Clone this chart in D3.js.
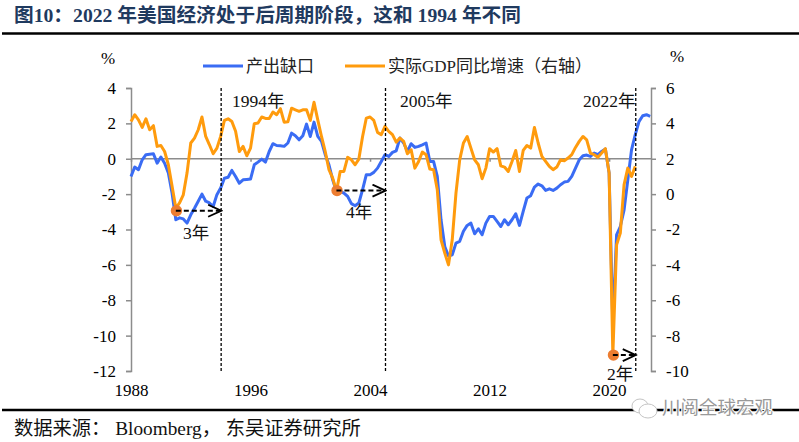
<!DOCTYPE html>
<html>
<head>
<meta charset="utf-8">
<script src="https://cdnjs.cloudflare.com/ajax/libs/d3/7.8.5/d3.min.js"></script>
<style>
  html, body { margin: 0; padding: 0; background: #fff; }
  svg { display: block; }
  text { font-family: "Liberation Serif", "Noto Sans CJK SC", serif; }
</style>
</head>
<body>
<script>
// quarterly, 1988Q1 onwards
var outputGap = [
  -1.0, -0.47, -0.62, -0.06, 0.23, 0.26, 0.28, -0.25, 0.1, -0.25, -0.8, -1.95,
  -3.45, -3.34, -3.4, -3.64, -3.17, -2.8, -2.4, -2.0, -2.4, -2.5, -2.7, -2.03,
  -1.66, -1.1, -1.05, -0.66, -1.0, -1.38, -1.19, -1.17, -1.15, -0.34, -0.19, -0.02,
  -0.19, 0.41, 0.85, 0.75, 0.74, 0.7, 0.89, 1.45, 1.3, 1.07, 1.3, 1.96,
  1.26, 2.07, 1.26, 0.98, 0.23, -0.34, -1.19, -1.85, -1.85, -1.94, -2.13, -2.54,
  -2.66, -2.5, -1.75, -0.9, -0.9, -0.77, -0.53, -0.15, 0.23, 0.13, 0.36, 0.45,
  1.17, 0.89, 0.41, 0.85, 0.64, 0.7, 0.79, 0.89, -0.15, -0.15, -1.0, -3.45,
  -4.96, -5.5, -5.43, -4.77, -4.67, -4.1, -3.77, -3.64, -4.24, -3.96, -4.3, -3.64,
  -3.26, -3.26, -3.54, -3.83, -3.45, -3.73, -3.45, -3.11, -3.77, -2.98, -2.22, -2.09,
  -1.6, -1.43, -1.53, -1.79, -1.7, -1.79, -1.66, -1.47, -1.32, -1.28, -1.0, -0.53,
  -0.06, 0.17, 0.21, 0.13, 0.32, 0.23, 0.41, 0.55, -0.8, -9.5, -4.3, -3.83,
  -2.9, -1.2, 0.5, 1.36, 2.1, 2.43, 2.49, 2.4
];
// right axis, ends 2021Q4
var gdpYoy = [
  4.11, 4.49, 4.2, 3.77, 4.26, 3.64, 3.87, 2.7, 2.75, 2.41, 1.66, 0.44,
  -0.79, -0.5, -0.04, 1.19, 2.89, 3.17, 3.64, 4.36, 3.26, 2.79, 2.28, 2.6,
  3.26, 4.17, 4.26, 4.11, 3.55, 2.41, 2.7, 2.17, 2.6, 3.98, 4.02, 4.36,
  4.28, 4.28, 4.64, 4.49, 4.83, 4.07, 4.09, 4.86, 4.77, 4.68, 4.77, 4.77,
  4.17, 5.19, 4.2, 3.26, 2.41, 1.38, 0.91, 0.15, 1.28, 1.28, 2.08, 1.94,
  1.66, 1.98, 3.26, 4.3, 4.36, 4.17, 3.49, 3.36, 3.83, 3.55, 3.36, 2.94,
  3.17, 2.98, 2.28, 2.51, 1.47, 1.85, 2.38, 2.23, 1.42, 1.38, 0.25, -2.58,
  -3.33, -4.0, -2.58, 0.06, 1.94, 2.89, 3.26, 2.6, 1.94, 1.66, 0.87, 1.47,
  2.57, 2.38, 2.57, 1.6, 1.53, 1.28, 1.85, 2.47, 1.28, 2.47, 2.75, 2.6,
  3.77, 2.89, 2.13, 1.85, 1.57, 1.38, 1.53, 1.94, 1.89, 2.04, 2.23, 2.64,
  2.98, 3.26, 3.07, 2.32, 2.23, 2.09, 2.32, 2.57, 1.2, -9.1, -2.87, -2.2,
  0.53, 1.47, 1.0, 1.57
];
var xTickYears = [1988, 1996, 2004, 2012, 2020];
var leftTicks = [4, 2, 0, -2, -4, -6, -8, -10, -12];
var rightTicks = [6, 4, 2, 0, -2, -4, -6, -8, -10];
var recessionStart = [12, 55, 129]; // quarter index of the orange dots
var recessionGap = [-2.94, -1.8, -11.1];
var cycleMark = [24, 68, 135]; // quarter index of the dashed lines

var w = 799;
var h = 442;
var blue = "#3a6cf4";
var orange = "#ff9b0d";
var axisGrey = "#8c8c8c";

var svg = d3.select("body").append("svg").attr("width", w).attr("height", h);

var x = d3.scaleLinear().domain([0, 139]).range([131, 650.2]);
var yLeft = d3.scaleLinear().domain([-12, 4]).range([371, 88]);
var yRight = d3.scaleLinear().domain([-10, 6]).range([371, 88]);

// rules + title + source
svg.append("line").attr("x1", 2).attr("x2", w).attr("y1", 33.5).attr("y2", 33.5)
  .attr("stroke", "#000").attr("stroke-width", 2.5);
svg.append("line").attr("x1", 2).attr("x2", w).attr("y1", 410).attr("y2", 410)
  .attr("stroke", "#000").attr("stroke-width", 2.5);
svg.append("text").attr("x", 14).attr("y", 22).attr("fill", "#1f3a5f")
  .attr("font-size", 19.7).attr("font-weight", "bold")
  .text("图10\uFF1A2022 年美国经济处于后周期阶段\uFF0C这和 1994 年不同");
svg.append("text").attr("x", 14).attr("y", 435).attr("fill", "#111")
  .attr("font-size", 19.3)
  .text("数据来源\uFF1A Bloomberg\uFF0C 东吴证券研究所");

// axes
function styleAxis(g) {
  g.selectAll("path, line").attr("stroke", axisGrey).attr("stroke-width", 1.5);
  g.selectAll("text").attr("font-size", 17).attr("fill", "#000")
    .attr("font-family", "Liberation Serif");
}

svg.append("g").attr("transform", "translate(131,0)")
  .call(d3.axisLeft(yLeft).tickValues(leftTicks).tickSize(5).tickPadding(10).tickFormat(String))
  .call(styleAxis);
svg.append("g").attr("transform", "translate(651,0)")
  .call(d3.axisRight(yRight).tickValues(rightTicks).tickSize(5).tickPadding(10).tickFormat(String))
  .call(styleAxis);

var yearTicks = xTickYears.map(function (d) { return (d - 1988) * 4; });

// zero line with small ticks
svg.append("g").attr("transform", "translate(0," + yLeft(0) + ")")
  .call(d3.axisBottom(x).tickValues(yearTicks).tickSize(3).tickFormat(""))
  .call(function (g) {
    g.select(".domain").attr("d", "M131,0H651");
    g.selectAll("path, line").attr("stroke", axisGrey).attr("stroke-width", 1.5);
  });

// year labels sit under the plot
svg.append("g").attr("transform", "translate(0,371)")
  .call(d3.axisBottom(x).tickValues(yearTicks).tickSize(0).tickPadding(13)
    .tickFormat(function (d) { return 1988 + d / 4; }))
  .call(function (g) {
    g.select(".domain").remove();
    g.selectAll("text").attr("font-size", 17).attr("fill", "#000");
  });

svg.append("text").attr("x", 108).attr("y", 64).attr("text-anchor", "middle")
  .attr("font-size", 17).text("%");
svg.append("text").attr("x", 677).attr("y", 62).attr("text-anchor", "middle")
  .attr("font-size", 17).text("%");

// series
var gapLine = d3.line().x(function (d, i) { return x(i); }).y(function (d) { return yLeft(d); });
var gdpLine = d3.line().x(function (d, i) { return x(i); }).y(function (d) { return yRight(d); });

svg.append("path").datum(outputGap).attr("d", gapLine).attr("fill", "none")
  .attr("stroke", blue).attr("stroke-width", 3).attr("stroke-linejoin", "round");
svg.append("path").datum(gdpYoy).attr("d", gdpLine).attr("fill", "none")
  .attr("stroke", orange).attr("stroke-width", 3).attr("stroke-linejoin", "round");

// dashed cycle markers
svg.selectAll("line.mark").data(cycleMark).enter().append("line")
  .attr("class", "mark")
  .attr("x1", function (d) { return x(d) + 0.5; }).attr("x2", function (d) { return x(d) + 0.5; })
  .attr("y1", 88).attr("y2", 372)
  .attr("stroke", "#000").attr("stroke-width", 1.3).attr("stroke-dasharray", "3,2");

// arrows from the dots to the dashed lines
var defs = svg.append("defs");
defs.append("marker").attr("id", "head").attr("markerUnits", "userSpaceOnUse")
  .attr("viewBox", "0 0 16 14").attr("markerWidth", 16).attr("markerHeight", 14)
  .attr("refX", 14).attr("refY", 7).attr("orient", "auto")
  .append("path").attr("d", "M1,1L14,7L1,13").attr("fill", "none")
  .attr("stroke", "#000").attr("stroke-width", 1.8);

svg.selectAll("circle.start").data(recessionStart).enter().append("circle")
  .attr("class", "start")
  .attr("cx", function (d) { return x(d) + 0.6; })
  .attr("cy", function (d, i) { return yLeft(recessionGap[i]); })
  .attr("r", 5.7).attr("fill", "#ed7d31");

svg.selectAll("line.arrow").data(recessionStart).enter().append("line")
  .attr("class", "arrow")
  .attr("x1", function (d) { return x(d); })
  .attr("x2", function (d, i) { return x(cycleMark[i]) + 0.5; })
  .attr("y1", function (d, i) { return yLeft(recessionGap[i]); })
  .attr("y2", function (d, i) { return yLeft(recessionGap[i]); })
  .attr("stroke", "#000").attr("stroke-width", 2).attr("stroke-dasharray", "5,3")
  .attr("marker-end", "url(#head)");

// notes
var noteText = ["1994年", "2005年", "2022年", "3年", "4年", "2年"];
var noteX = [232, 400, 583, 183, 346, 607];
var noteY = [107, 107, 107, 239, 218, 380];
svg.selectAll("text.note").data(noteText).enter().append("text")
  .attr("class", "note")
  .attr("x", function (d, i) { return noteX[i]; })
  .attr("y", function (d, i) { return noteY[i]; })
  .attr("font-size", 17.5).attr("fill", "#111")
  .text(function (d) { return d; });

// legend
var legendNames = ["产出缺口", "实际GDP同比增速\uFF08右轴\uFF09"];
var legendColors = [blue, orange];
var legendX = [203, 345];
var legend = svg.selectAll("g.legend").data(legendNames).enter().append("g")
  .attr("class", "legend")
  .attr("transform", function (d, i) { return "translate(" + legendX[i] + ",66)"; });
legend.append("line").attr("x1", 0).attr("x2", 40)
  .attr("stroke", function (d, i) { return legendColors[i]; }).attr("stroke-width", 3);
legend.append("text").attr("x", 43).attr("y", 6).attr("font-size", 17).attr("fill", "#222")
  .text(function (d) { return d; });

// watermark
var mark = svg.append("g").attr("transform", "translate(640,408)").attr("fill", "#fff")
  .attr("stroke", "#c4c4c4").attr("stroke-width", 1);
mark.append("ellipse").attr("cx", 0).attr("cy", -2).attr("rx", 8).attr("ry", 7);
mark.append("ellipse").attr("cx", 8).attr("cy", 3).attr("rx", 9).attr("ry", 7);
svg.append("text").attr("x", 662).attr("y", 414).attr("font-size", 18.5)
  .attr("font-family", "Noto Sans CJK SC").attr("fill", "#999")
  .attr("stroke", "#fff").attr("stroke-width", 2).attr("paint-order", "stroke")
  .text("川阅全球宏观");
</script>
</body>
</html>
